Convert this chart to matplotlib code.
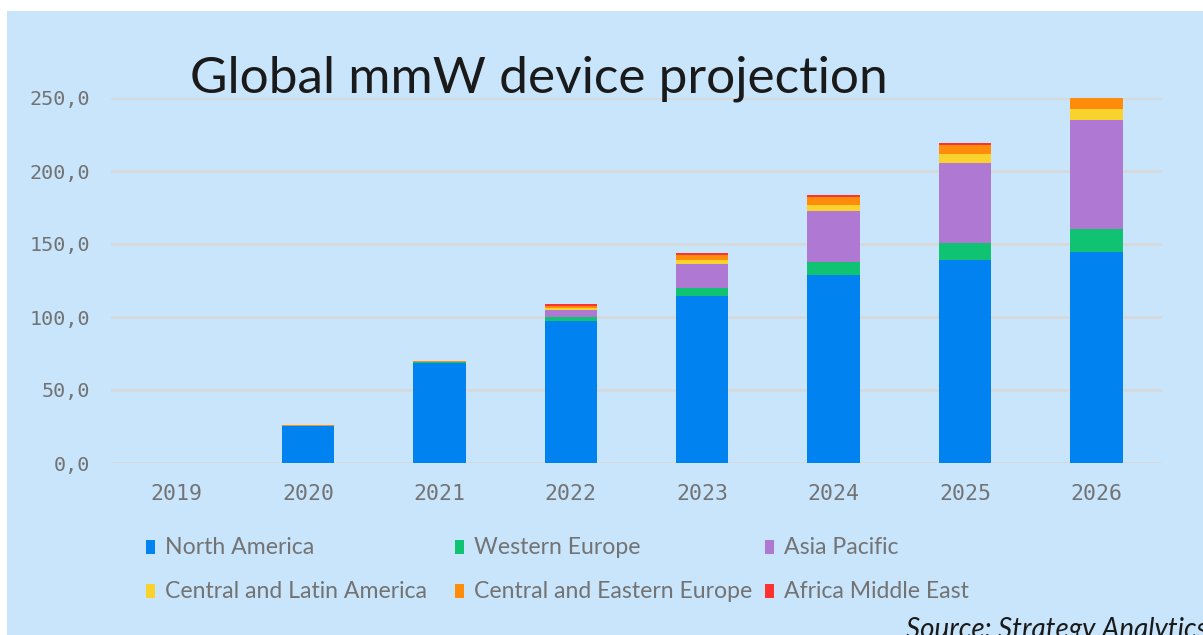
import matplotlib.pyplot as plt
from matplotlib.patches import Rectangle
import numpy as np

# %% data
years = ["2019", "2020", "2021", "2022", "2023", "2024", "2025", "2026"]
north_america = [0, 25.2, 68.8, 97.3, 114.6, 128.8, 139.3, 144.5]
western_europe = [0, 0.3, 0.4, 2.5, 5.3, 8.6, 11.2, 15.8]
asia_pacific = [0, 0.1, 0.2, 5.0, 16.6, 35.2, 54.8, 74.6]
central_latin_america = [0, 0.0, 0.1, 1.2, 2.8, 4.3, 6.1, 7.8]
central_eastern_europe = [0, 0.2, 0.2, 1.7, 3.4, 5.3, 6.2, 7.3]
africa_middle_east = [0, 0.0, 0.1, 1.2, 0.9, 1.1, 1.4, 0.0]

series_names = ["North America", "Western Europe", "Asia Pacific",
                "Central and Latin America", "Central and Eastern Europe",
                "Africa Middle East"]
series_values = [north_america, western_europe, asia_pacific,
                 central_latin_america, central_eastern_europe, africa_middle_east]
colors = ["#0082F0", "#0FC373", "#AF78D2", "#FAD22D", "#FF8C0A", "#FF3232"]

BG = "#C8E5FB"
GRID = "#D8D8D8"
TICK_COLOR = "#737373"
W, H = 1203, 635

# %% figure
fig = plt.figure(figsize=(W / 100, H / 100), dpi=100, facecolor="white")
fig.patches.append(Rectangle((7 / W, 0), 1, 1 - 11 / H, transform=fig.transFigure,
                             facecolor=BG, edgecolor="none", zorder=-10))

ax = fig.add_axes([111 / W, 1 - 463 / H, (1162 - 111) / W, (463 - 98) / H])
ax.set_facecolor("none")

x = np.arange(len(years))
bottom = np.zeros(len(years))
for name, vals, col in zip(series_names, series_values, colors):
    ax.bar(x, vals, width=0.4, bottom=bottom, color=col, label=name,
           linewidth=0, zorder=3, clip_on=False)
    bottom += np.array(vals)

ax.set_xlim(-0.5, len(years) - 0.5)
ax.set_ylim(0, 250)
ax.set_yticks(np.arange(0, 251, 50))
ax.set_yticklabels([f"{v:.1f}".replace(".", ",") for v in np.arange(0, 251, 50)])
ax.set_xticks(x)
ax.set_xticklabels(years)
for s in ax.spines.values():
    s.set_visible(False)
ax.yaxis.grid(True, color=GRID, linewidth=1.8, zorder=0)
ax.set_axisbelow(True)
ax.tick_params(axis="both", length=0, labelcolor=TICK_COLOR)
ax.tick_params(axis="y", pad=15, labelsize=14.5)
ax.tick_params(axis="x", pad=15, labelsize=15.5)
for lab in ax.get_xticklabels() + ax.get_yticklabels():
    lab.set_family("DejaVu Sans Mono")

# title
fig.text(190 / W, 1 - 93 / H, "Global mmW device projection", fontsize=37,
         family="Lato", color="#1a1a1a", va="baseline", ha="left")

# legend in fixed-width columns, filled row by row
col_x = [146, 455, 765]
row_y = [547, 591]
for i, (name, col) in enumerate(zip(series_names, colors)):
    cx = col_x[i % 3]
    cy = row_y[i // 3]
    fig.patches.append(Rectangle((cx / W, 1 - (cy + 7) / H), 9 / W, 14 / H,
                                 transform=fig.transFigure, facecolor=col,
                                 edgecolor="none"))
    fig.text((cx + 19) / W, 1 - cy / H, name, fontsize=16.6, family="Lato",
             color=TICK_COLOR, va="center", ha="left")

fig.text(906 / W, 1 - 638 / H, "Source: Strategy Analytics", fontsize=20,
         family="Lato", style="italic", color="#1a1a1a", va="baseline", ha="left")

fig.savefig("out.png", dpi=100, facecolor=fig.get_facecolor())
